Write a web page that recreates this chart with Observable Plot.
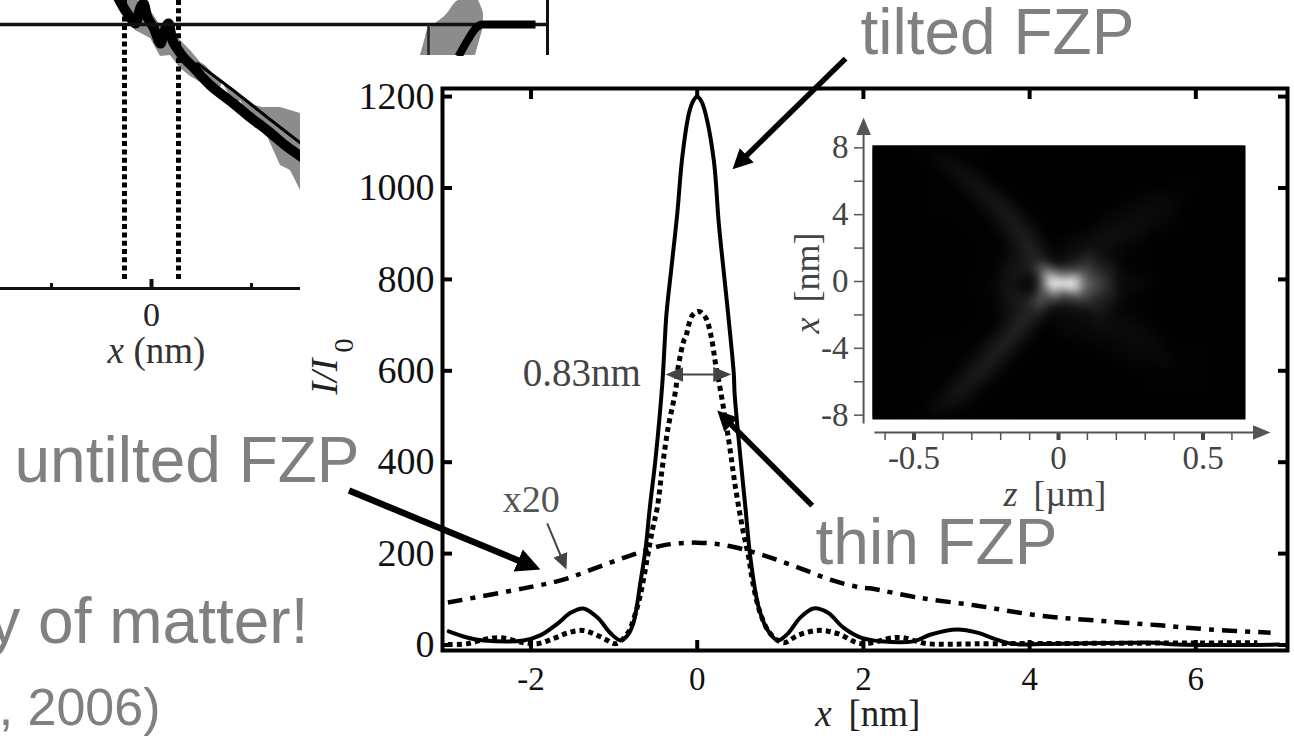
<!DOCTYPE html>
<html><head><meta charset="utf-8">
<script src="https://cdn.jsdelivr.net/npm/d3@7"></script>
<script src="https://cdn.jsdelivr.net/npm/@observablehq/plot@0.6"></script>
<style>
html,body{margin:0;padding:0;background:#fff;width:1294px;height:736px;overflow:hidden}
#page{position:relative;width:1294px;height:736px;overflow:hidden}
#page svg{position:absolute;background:transparent}
</style></head><body><div id="page"></div>
<script>
// ---- main chart: I/I0 against x [nm]
const xTilted=[-2.99,-2.76,-2.57,-2.09,-1.89,-1.68,-1.52,-1.37,-1.20,-1.04,-0.92,-0.84,-0.77,-0.68,-0.62,-0.57,-0.50,-0.42,-0.39,-0.37,-0.31,-0.24,-0.18,-0.10,-0.05,0,0.05,0.10,0.20,0.26,0.33,0.38,0.44,0.45,0.52,0.58,0.64,0.74,0.85,0.97,1.09,1.24,1.40,1.57,1.76,1.97,2.21,2.60,2.81,3.13,3.37,3.57,3.77,4.37,5.18,5.49,5.78,7.0];
const yTilted=[30,16,10,10,21,47,71,80,60,25,10,21,47,141,213,301,410,572,666,725,826,944,1067,1163,1190,1200,1190,1163,1060,922,798,710,594,550,410,301,191,82,32,10,25,60,80,71,38,16,8,8,23,34,27,14,3,3,5,5,1,1];
const xThin=[-3.0,-2.76,-2.57,-2.37,-2.09,-1.92,-1.73,-1.55,-1.38,-1.25,-1.12,-0.98,-0.84,-0.77,-0.68,-0.60,-0.54,-0.48,-0.42,-0.35,-0.26,-0.23,-0.16,-0.14,-0.06,0.02,0.10,0.17,0.22,0.28,0.38,0.46,0.55,0.62,0.67,0.76,0.88,1.04,1.21,1.45,1.69,1.97,2.36,2.48,2.60,2.77,3.57,6.74];
const yThin=[1,3,12,16,5,3,14,27,32,25,14,3,25,54,113,191,251,301,388,476,557,607,666,673,721,730,717,673,616,557,447,345,251,191,135,69,25,5,21,32,25,3,16,16,10,3,3,5];
const xUntilted=[-3,-2.09,-1.61,-1.2,-0.8,-0.41,0,0.4,0.8,1.21,1.6,1.96,2.08,2.65,3.37,4.09,4.77,5.57,6.17,6.9];
const yUntilted=[93,124,143,170,196,218,224,216,196,170,143,126,124,104,86,65,54,43,34,27];
const mainXTicks=[-2,0,2,4,6];
const mainYTicks=[0,200,400,600,800,1000,1200];

// ---- inset: z [um], x [nm], brightness spots
const spots=[[.013,-.14,255],[-.028,-.14,250],[.053,-.14,240],[.013,.26,130],[.013,-.58,90],[-.045,-.18,110],[.03,.1,200],[.03,-.4,190],
[.099,-.14,95],[.076,-.14,135],[.157,-.14,50],[.203,-.14,12],[.088,.66,65],[.12,1.0,35],[.088,-1.04,55],[.12,-1.3,35],[.111,-1.84,12],
[-.062,.96,72],[-.108,.96,25],[-.01,1.06,10],[-.062,1.46,28],[-.068,-1.3,72],[-.12,-1.44,28],[-.01,-1.54,10],[-.068,-1.94,28],
[-.085,-.14,5],[-.178,-.14,18],[-.235,-.14,3],[-.131,-.14,8],
[-.108,2.26,30],[-.155,3.45,25],[-.212,4.65,22],[-.293,5.85,17],[-.374,7.05,12],[-.437,8.04,4],
[-.196,2.26,2],[-.242,3.45,2],[-.306,4.65,2],[-.386,5.85,2],[-.467,7.05,1],[-.027,2.26,2],[-.067,3.45,2],[-.125,4.65,1],[-.2,5.85,1],[-.28,7.05,1],
[-.131,-2.53,34],[-.189,-3.73,30],[-.258,-5.13,27],[-.328,-6.33,22],[-.397,-7.52,13],[-.437,-8.22,3],
[-.219,-2.53,2],[-.283,-3.73,2],[-.352,-5.13,2],[-.421,-6.33,2],[-.49,-7.52,1],[-.044,-2.53,2],[-.096,-3.73,2],[-.165,-5.13,1],[-.234,-6.33,1],[-.303,-7.52,1],
[.122,2.06,15],[.261,3.45,12],[.364,4.45,9],[.434,5.65,2],[.076,3.25,1],[.203,4.85,1],[.318,6.05,1],[.215,1.26,3],[.33,2.25,1],[.434,3.25,1],
[.145,-2.53,13],[.261,-3.13,10],[.364,-4.53,7],[.445,-5.73,2],[.226,-1.34,3],[.353,-2.33,1],[.099,-4.13,1],[.238,-5.53,1],
[-.65,-8.3,0],[.65,-8.3,0],[-.65,8.3,0],[.65,8.3,0],[-.65,0,0],[.65,0,0],[0,8.3,0],[0,-8.3,0],[0,3,0],[0,-4,0],[-.4,0,0],[.4,0,0]];
const insetXMinor=[-.6,-.5,-.4,-.3,-.2,-.1,0,.1,.2,.3,.4,.5,.6];
const insetXMajor=[-.5,0,.5];
const insetYMinor=[-8,-6,-4,-2,0,2,4,6,8];
const insetYMajor=[-8,-4,0,4,8];

// ---- cropped panel on the left
const squigX=[-.33,-.26,-.19,-.16,-.11,-.08,-.04,.02,.09,.12,.17,.21,.27,.32,.42,.59,.82,.99,1.16,1.34,1.51];
const squigY=[.26,.14,.04,.01,.17,.21,.07,-.03,-.19,-.09,.01,-.16,-.26,-.33,-.43,-.61,-.79,-.93,-1.06,-1.21,-1.33];
const fineX=[.46,.82,1.16,1.51];
const fineY=[-.39,-.66,-.93,-1.20];
const bandX=[-.36,-.31,-.16,-.01,.09,.19,.29,.39,.49,.54,.66,.71,.84,.89,1.04,1.11,1.29,1.39,1.49,1.51];
const bandHi=[.26,.26,.26,.14,-.01,-.06,-.16,-.26,-.38,-.41,-.54,-.56,-.68,-.70,-.81,-.83,-.83,-.86,-.89,-.89];
const bandLo=[.22,.12,-.06,-.14,-.32,-.31,-.44,-.52,-.58,-.48,-.71,-.58,-.82,-.76,-1.04,-1.01,-1.41,-1.46,-1.66,-1.66];
const fwhmBounds=[-.27,.27];
const leftMinor=[-1,1];
const blobY=[.24,.22,.11,.07,-.06,-.13,-.31];
const blobX1=[3.07,3.04,2.96,2.92,2.76,2.74,2.69];
const blobX2=[3.27,3.28,3.32,3.32,3.31,3.29,3.24];
const edgeX=[3.07,3.16,3.24,3.31,3.51,3.84];
const edgeY=[-.32,-.16,-.04,0,0,0];

// ---- annotations, in the main chart's units
const bigArrows=[
 {x1:1.785,y1:1283,x2:.493,y2:1053},
 {x1:1.384,y1:305,x2:.309,y2:500.7}];
const fatArrow=[{x1:-4.19,y1:338,x2:-1.994,y2:173}];
const x20Arrow=[{x1:-1.805,y1:266,x2:-1.603,y2:178}];
const widthArrow=[{x1:-.295,y1:592,x2:.323,y2:592}];
const largeLabels=[
 {t:"tilted FZP",x:1.965,y:1294},
 {t:"untilted FZP",x:-8.215,y:356},
 {t:"thin FZP",x:1.424,y:178},
 {t:"y of matter!",x:-8.53,y:5.5}];
const smallLabels=[{t:", 2006)",x:-6.458,y:-174}];

const SERIF="'Liberation Serif','Times New Roman',serif", SANS="'Liberation Sans',Arial,sans-serif";
const zip=(xs,ys)=>xs.map((x,i)=>({x,y:ys[i]}));
function head(len,wid,ref){return (color,ctx)=>{
  const ns="http://www.w3.org/2000/svg",doc=ctx.document;
  const m=doc.createElementNS(ns,"marker");
  m.setAttribute("viewBox",`0 ${-wid/2} ${len} ${wid}`);
  m.setAttribute("markerUnits","userSpaceOnUse");
  m.setAttribute("markerWidth",len);m.setAttribute("markerHeight",wid);
  m.setAttribute("refX",len*ref);m.setAttribute("refY",0);
  m.setAttribute("orient","auto-start-reverse");
  const p=doc.createElementNS(ns,"path");
  p.setAttribute("d",`M0,${-wid/2}L${len},0L0,${wid/2}z`);
  p.setAttribute("fill",color);p.setAttribute("stroke","none");
  m.appendChild(p);return m;};}
const page=document.getElementById("page");
function place(svg,l,t){svg.style.left=l+"px";svg.style.top=t+"px";page.appendChild(svg);}

const xMain={domain:[-3.065,7.103],axis:null};
const yMain={domain:[-12,1217.7],axis:null};
const frameMain={width:1294,height:736,marginLeft:442,marginRight:7,marginTop:88,marginBottom:86};

// left panel, cropped at the right
place(Plot.plot({width:300,height:380,margin:0,x:{domain:[-1.51,1.49],axis:null},y:{domain:[-3.56,.24],axis:null},
 marks:[
  Plot.areaY(bandX.map((x,i)=>({x,hi:bandHi[i],lo:bandLo[i]})),{x:"x",y1:"hi",y2:"lo",fill:"#8c8c8c"}),
  Plot.line(zip(squigX,squigY),{x:"x",y:"y",stroke:"#000",strokeWidth:10,curve:"catmull-rom",strokeLinejoin:"round"}),
  Plot.line(zip(fineX,fineY),{x:"x",y:"y",stroke:"#000",strokeWidth:3}),
  Plot.ruleX(fwhmBounds,{x:d=>d,y1:.24,y2:-2.55,stroke:"#000",strokeWidth:5,strokeDasharray:"5 3.3"}),
  Plot.ruleY([-2.64],{stroke:"#111",strokeWidth:3}),
  Plot.ruleX(leftMinor,{x:d=>d,y1:-2.64,y2:-2.59,stroke:"#111",strokeWidth:3}),
  Plot.ruleX([0],{y1:-2.64,y2:-2.55,stroke:"#111",strokeWidth:4}),
  Plot.text(["0"],{x:[0],y:[-3.01],text:d=>d,fontFamily:SERIF,fontSize:34,lineAnchor:"bottom",fill:"#222"}),
  Plot.text(["x"],{x:[-.44],y:[-3.38],text:d=>d,fontFamily:SERIF,fontStyle:"italic",fontSize:37,lineAnchor:"bottom",textAnchor:"start",fill:"#333"}),
  Plot.text(["(nm)"],{x:[-.18],y:[-3.38],text:d=>d,fontFamily:SERIF,fontSize:37,lineAnchor:"bottom",textAnchor:"start",fill:"#333"})
 ]}),0,0);

// left panel: top rule and cropped right end
place(Plot.plot({width:550,height:56,margin:0,x:{domain:[-1.51,3.99],axis:null},y:{domain:[-.32,.24],axis:null},
 marks:[
  Plot.areaX(blobY.map((y,i)=>({y,a:blobX1[i],b:blobX2[i]})),{y:"y",x1:"a",x2:"b",fill:"#8c8c8c",curve:"catmull-rom"}),
  Plot.ruleY([0],{x1:-1.51,x2:3.96,stroke:"#111",strokeWidth:3.5}),
  Plot.ruleX([3.96],{y1:.24,y2:-.31,stroke:"#111",strokeWidth:3}),
  Plot.ruleX([2.77],{y1:0,y2:-.31,stroke:"#222",strokeWidth:2.5}),
  Plot.line(zip(edgeX,edgeY),{x:"x",y:"y",stroke:"#000",strokeWidth:8,curve:"monotone-x",strokeLinecap:"butt"})
 ]}),0,0);

// main chart
place(Plot.plot({...frameMain,x:xMain,y:yMain,marks:[
  Plot.frame({stroke:"#000",strokeWidth:4}),
  Plot.axisX({ticks:mainXTicks,anchor:"bottom",tickSize:-10,strokeWidth:4,text:null,label:null}),
  Plot.axisX({ticks:mainXTicks,anchor:"top",tickSize:-10,strokeWidth:4,text:null,label:null}),
  Plot.axisY({ticks:mainYTicks,anchor:"left",tickSize:-10,strokeWidth:4,text:null,label:null}),
  Plot.axisY({ticks:mainYTicks,anchor:"right",tickSize:-10,strokeWidth:4,text:null,label:null}),
  Plot.axisX({ticks:mainXTicks,anchor:"bottom",tickSize:0,tickPadding:16,tickFormat:String,fontFamily:SERIF,fontSize:33,fill:"#111",label:null}),
  Plot.axisY({ticks:mainYTicks,anchor:"left",tickSize:0,tickPadding:8,tickFormat:String,fontFamily:SERIF,fontSize:38,fill:"#111",label:null}),
  Plot.line(zip(xUntilted,yUntilted),{x:"x",y:"y",stroke:"#000",strokeWidth:4.5,strokeDasharray:"15 8 5 8",strokeLinecap:"butt",curve:"catmull-rom"}),
  Plot.line(zip(xThin,yThin),{x:"x",y:"y",stroke:"#000",strokeWidth:5,strokeDasharray:"5 4",strokeLinecap:"butt",curve:"catmull-rom"}),
  Plot.line(zip(xTilted,yTilted),{x:"x",y:"y",stroke:"#000",strokeWidth:4,curve:"catmull-rom"}),
  Plot.text(["x"],{x:[1.42],y:[-177],text:d=>d,fontFamily:SERIF,fontStyle:"italic",fontSize:37,lineAnchor:"bottom",textAnchor:"start",fill:"#222"}),
  Plot.text(["[nm]"],{x:[1.82],y:[-177],text:d=>d,fontFamily:SERIF,fontSize:37,lineAnchor:"bottom",textAnchor:"start",fill:"#222"}),
  Plot.text(["I/I"],{x:[-4.33],y:[548],text:d=>d,fontFamily:SERIF,fontStyle:"italic",fontSize:38,rotate:-90,textAnchor:"start",lineAnchor:"bottom",fill:"#222"}),
  Plot.text(["0"],{x:[-4.14],y:[640],text:d=>d,fontFamily:SERIF,fontSize:28,rotate:-90,textAnchor:"start",lineAnchor:"bottom",fill:"#222"}),
  Plot.text(["0.83nm"],{x:[-2.1],y:[566],text:d=>d,fontFamily:SERIF,fontSize:39,textAnchor:"start",lineAnchor:"bottom",fill:"#444"}),
  Plot.text(["x20"],{x:[-2.34],y:[292],text:d=>d,fontFamily:SERIF,fontSize:38,textAnchor:"start",lineAnchor:"bottom",fill:"#555"})
 ]}),0,0);

// inset
place(Plot.plot({width:514,height:410,marginLeft:92,marginRight:49,marginTop:35,marginBottom:101,
 x:{domain:[-.6436,.647],axis:null},y:{domain:[-8.26,8.14],axis:null},
 color:{type:"linear",domain:[0,230],range:["#000","#fff"]},
 marks:[
  Plot.frame({fill:"#000"}),
  Plot.raster(spots,{x:d=>d[0],y:d=>d[1],fill:d=>d[2],interpolate:"barycentric",pixelSize:1,imageFilter:"blur(4px)",clip:"frame"}),
  Plot.axisX({ticks:insetXMinor,anchor:"bottom",dy:13,tickSize:8,stroke:"#555",strokeWidth:1.5,text:null,label:null}),
  Plot.axisX({ticks:insetXMajor,anchor:"bottom",dy:13,tickSize:8,stroke:"#444",strokeWidth:4,text:null,label:null}),
  Plot.axisY({ticks:insetYMinor,anchor:"left",dx:-9,tickSize:9,stroke:"#555",strokeWidth:1.5,text:null,label:null}),
  Plot.axisX({ticks:insetXMajor,anchor:"bottom",dy:13,tickSize:0,tickPadding:13,tickFormat:d=>String(d),fontFamily:SERIF,fontSize:33,fill:"#444",label:null}),
  Plot.axisY({ticks:insetYMajor,anchor:"left",dx:-9,tickSize:0,tickPadding:15,tickFormat:String,fontFamily:SERIF,fontSize:33,fill:"#444",label:null}),
  Plot.link([{a:-.637,b:-9.04,c:.7087,d:-9.04}],{x1:"a",y1:"b",x2:"c",y2:"d",stroke:"#555",strokeWidth:2,markerEnd:head(18,15,.6)}),
  Plot.link([{a:-.6745,b:-8.5,c:-.6745,d:9.39}],{x1:"a",y1:"b",x2:"c",y2:"d",stroke:"#555",strokeWidth:2,markerEnd:head(18,15,.6)}),
  Plot.text(["x"],{x:[-.83],y:[-3.11],text:d=>d,fontFamily:SERIF,fontStyle:"italic",fontSize:36,rotate:-90,textAnchor:"start",lineAnchor:"bottom",fill:"#444"}),
  Plot.text(["[nm]"],{x:[-.83],y:[-1.26],text:d=>d,fontFamily:SERIF,fontSize:36,rotate:-90,textAnchor:"start",lineAnchor:"bottom",fill:"#444"}),
  Plot.text(["z"],{x:[-.19],y:[-13.41],text:d=>d,fontFamily:SERIF,fontStyle:"italic",fontSize:36,textAnchor:"start",lineAnchor:"bottom",fill:"#444"}),
  Plot.text(["[\u00b5m]"],{x:[-.0865],y:[-13.41],text:d=>d,fontFamily:SERIF,fontSize:36,textAnchor:"start",lineAnchor:"bottom",fill:"#444"})
 ]}),780,110);

// annotation layer over everything
place(Plot.plot({...frameMain,x:xMain,y:yMain,marks:[
  Plot.text(largeLabels,{x:"x",y:"y",text:"t",textAnchor:"start",fontSize:64,fontFamily:SANS,lineAnchor:"bottom",fill:"#808080"}),
  Plot.text(smallLabels,{x:"x",y:"y",text:"t",textAnchor:"end",fontSize:52,fontFamily:SANS,lineAnchor:"bottom",fill:"#808080"}),
  Plot.link(bigArrows,{x1:"x1",y1:"y1",x2:"x2",y2:"y2",stroke:"#000",strokeWidth:5.5,markerEnd:head(20,20,.6)}),
  Plot.link(fatArrow,{x1:"x1",y1:"y1",x2:"x2",y2:"y2",stroke:"#000",strokeWidth:6.5,markerEnd:head(24,24,.6)}),
  Plot.link(x20Arrow,{x1:"x1",y1:"y1",x2:"x2",y2:"y2",stroke:"#444",strokeWidth:2,markerEnd:head(16,15,.6)}),
  Plot.link(widthArrow,{x1:"x1",y1:"y1",x2:"x2",y2:"y2",stroke:"#444",strokeWidth:2,markerStart:head(18,15,.6),markerEnd:head(18,15,.6)})
 ]}),0,0);
</script></body></html>
